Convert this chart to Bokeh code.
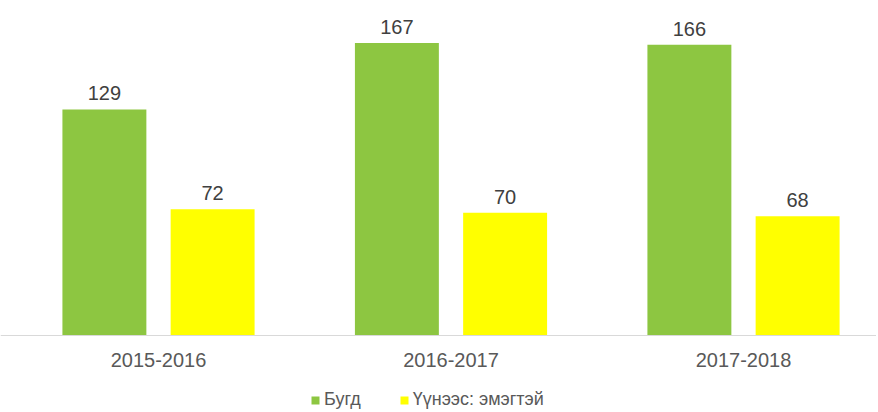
from bokeh.plotting import figure
from bokeh.models import ColumnDataSource, Range1d, Legend, LegendItem, LabelSet, Span
from bokeh.core.properties import value
from bokeh.embed import file_html
from bokeh.resources import INLINE

categories = ["2015-2016", "2016-2017", "2017-2018"]
total = [129, 167, 166]
female = [72, 70, 68]
series_names = ["Бугд", "Үүнээс: эмэгтэй"]

OFF = 0.185
pos = [i + 0.5 for i in range(len(categories))]
src = ColumnDataSource(dict(
    cat=categories, pos=pos,
    xg=[x - OFF for x in pos], xy=[x + OFF for x in pos],
    zero=[0] * len(categories),
    total=total, female=female,
    total_lbl=[str(v) for v in total],
    female_lbl=[str(v) for v in female]))

p = figure(frame_width=876, frame_height=410, output_backend="svg", toolbar_location=None,
           x_range=Range1d(-0.0402, 2.9547), y_range=Range1d(-42.8, 191.2),
           x_axis_location=None, y_axis_location=None,
           min_border_left=0, min_border_right=0, min_border_top=0, min_border_bottom=0)
p.outline_line_color = None
p.xgrid.visible = False
p.ygrid.visible = False

FONT = value("Liberation Sans")

p.add_layout(Span(location=0, dimension="width", line_color="#D9D9D9", line_width=1))

g = p.vbar(x="xg", top="total", width=0.287, source=src,
           fill_color="#8DC641", line_color=None)
y = p.vbar(x="xy", top="female", width=0.287, source=src,
           fill_color="#FFFF00", line_color=None)

for xc, col, lbl in (("xg", "total", "total_lbl"), ("xy", "female", "female_lbl")):
    p.add_layout(LabelSet(x=xc, y=col, text=lbl, source=src,
                          text_align="center", text_baseline="bottom", y_offset=9,
                          text_font=FONT, text_font_size="20px", text_color="#404040"))

p.add_layout(LabelSet(x="pos", y="zero", text="cat", source=src,
                      text_align="center", text_baseline="middle", y_offset=-24,
                      text_font=FONT, text_font_size="20px", text_color="#595959"))

legend = Legend(items=[LegendItem(label=series_names[0], renderers=[g]),
                       LegendItem(label=series_names[1], renderers=[y])],
                orientation="horizontal", location=(310, 0),
                label_text_font="Liberation Sans", label_text_font_size="18px",
                label_text_color="#595959", glyph_width=10, glyph_height=10,
                label_height=20, label_standoff=4, spacing=38,
                border_line_color=None, padding=0, margin=0,
                background_fill_alpha=0)
p.add_layout(legend, "center")

open("out.html", "w").write(file_html(p, INLINE))
